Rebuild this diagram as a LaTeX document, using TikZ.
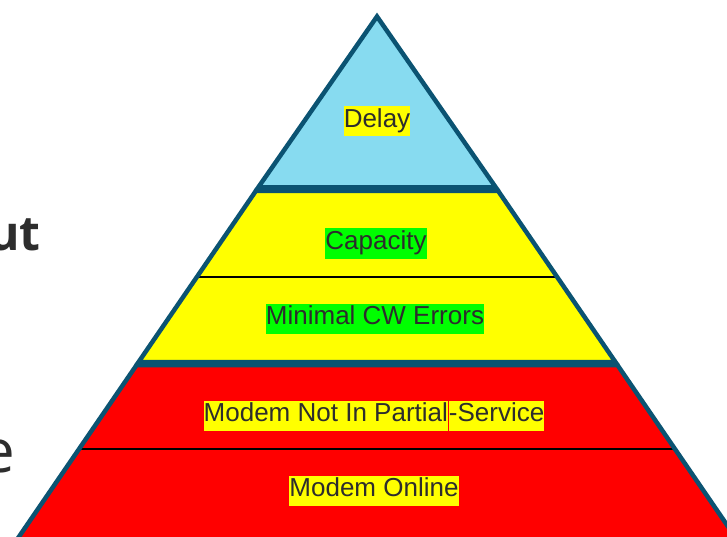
\documentclass[tikz,border=0pt]{standalone}
\usepackage{fontspec}
\setmainfont{Liberation Sans}
\newfontfamily\opensans{Open Sans}
\definecolor{edge}{HTML}{0B5372}
\definecolor{skyfill}{HTML}{87DBF0}
\definecolor{hlyellow}{HTML}{FFFF00}
\definecolor{hlgreen}{HTML}{00FF00}
\definecolor{lvred}{HTML}{FF0000}
\definecolor{txt}{HTML}{2D2D2D}
\newcommand\hlbox[2]{{\setlength{\fboxsep}{0pt}\colorbox{#1}{\strut #2}}}
\begin{document}
\begin{tikzpicture}[x=1pt,y=-1pt,
  outl/.style={draw=edge,line width=4.5pt,line join=miter},
  divider/.style={draw=black,line width=1.4pt},
  lbl/.style={inner sep=0pt,text=txt,font=\fontsize{26}{30}\selectfont},
  sidetxt/.style={inner sep=0pt,text=txt,anchor=base east}]
\useasboundingbox (0,0) rectangle (727,537);
\clip (0,0) rectangle (727,537);
% side texts (cut off at the left edge)
\node[sidetxt,font=\opensans\bfseries\fontsize{48}{48}\selectfont] (ut) at (41,250) {ut};
\node[sidetxt,font=\opensans\fontsize{60}{60}\selectfont] (e) at (15,472) {e};
% red level
\coordinate (r1) at (136.6,365);
\coordinate (r2) at (617.4,365);
\coordinate (r3) at (740.7,545);
\coordinate (r4) at (13.3,545);
\fill[lvred] (r1) -- (r2) -- (r3) -- (r4) -- cycle;
\coordinate (rdl) at (79,449);
\coordinate (rdr) at (675,449);
\draw[divider] (rdl) -- (rdr);
\draw[outl] (r1) -- (r2) -- (r3) -- (r4) -- cycle;
% yellow level
\coordinate (y1) at (255.8,191);
\coordinate (y2) at (498.2,191);
\coordinate (y3) at (615.4,362);
\coordinate (y4) at (138.6,362);
\fill[hlyellow] (y1) -- (y2) -- (y3) -- (y4) -- cycle;
\coordinate (ydl) at (197,277);
\coordinate (ydr) at (557,277);
\draw[divider] (ydl) -- (ydr);
\draw[outl] (y1) -- (y2) -- (y3) -- (y4) -- cycle;
% top triangle
\coordinate (apex) at (377,16.5);
\coordinate (tl) at (257.8,188);
\coordinate (tr) at (496.2,188);
\fill[skyfill] (apex) -- (tr) -- (tl) -- cycle;
\draw[outl] (apex) -- (tr) -- (tl) -- cycle;
\draw[draw=edge,line width=5pt] (tl) -- (tr);
% labels
\node[lbl] (delay) at (377,121.5) {\hlbox{hlyellow}{Delay}};
\node[lbl] (cap) at (376,243.5) {\hlbox{hlgreen}{Capacity}};
\node[lbl] (cw) at (375,318.5) {\hlbox{hlgreen}{Minimal CW Errors}};
\node[lbl] (partial) at (374,415.5) {\hlbox{hlyellow}{Modem Not In Partial}\hspace{1pt}\hlbox{hlyellow}{-Service}};
\node[lbl] (online) at (374,490.5) {\hlbox{hlyellow}{Modem Online}};
\end{tikzpicture}
\end{document}
